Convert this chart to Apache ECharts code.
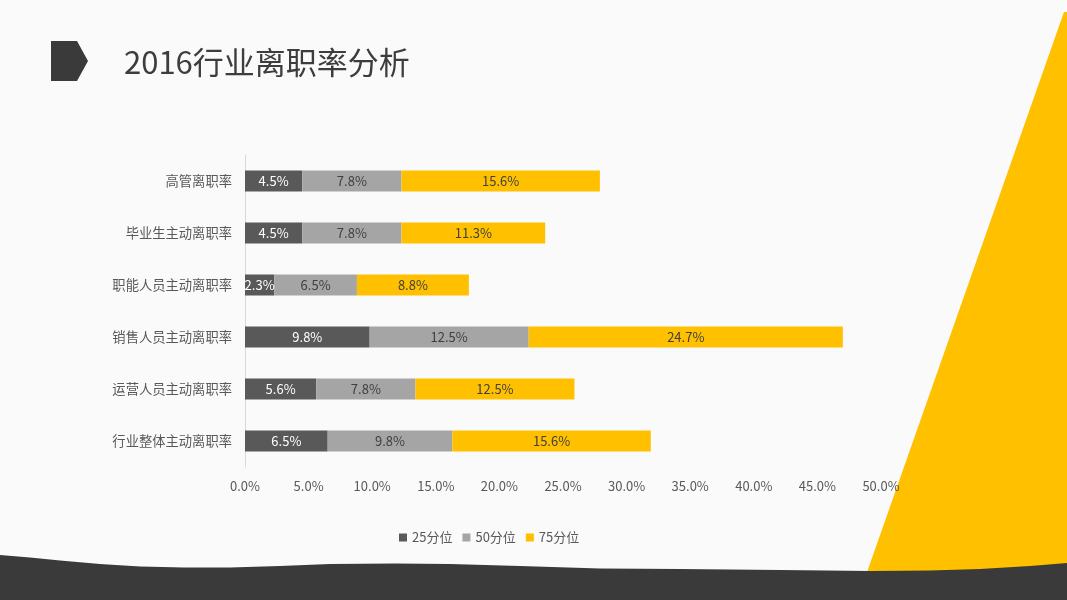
<!DOCTYPE html>
<html>
<head>
<meta charset="utf-8">
<script src="https://cdn.jsdelivr.net/npm/echarts@6/dist/echarts.min.js"></script>
<style>
html,body{margin:0;padding:0;background:#fafafa;}
#c{width:1067px;height:600px;}
</style>
</head>
<body>
<div id="c"></div>
<script>
var categories = ['高管离职率','毕业生主动离职率','职能人员主动离职率','销售人员主动离职率','运营人员主动离职率','行业整体主动离职率'];
var seriesNames = ['25分位','50分位','75分位'];
var p25 = [4.5, 4.5, 2.3, 9.8, 5.6, 6.5];
var p50 = [7.8, 7.8, 6.5, 12.5, 7.8, 9.8];
var p75 = [15.6, 11.3, 8.8, 24.7, 12.5, 15.6];
var axisMin = 0, axisMax = 50, axisStep = 5;

var font = '"Noto Sans CJK SC","Noto Sans",sans-serif';
var chart = echarts.init(document.getElementById('c'));
function mk(name, data, color, labelColor) {
  return {
    name: name, type: 'bar', stack: 'total', data: data, barWidth: 21,
    itemStyle: { color: color },
    label: { show: true, position: 'inside', color: labelColor, fontSize: 13, fontFamily: font,
      formatter: function (p) { return p.value.toFixed(1) + '%'; } },
    emphasis: { disabled: true }
  };
}
var wave = [[0,555],[30,557.5],[60,560.5],[100,564],[140,566.5],[184,567.5],[230,567.5],[280,566],[330,564],[395,563.5],[450,564],[520,566],[600,568.5],[680,569],[780,570],[871,571],[930,570.5],[980,569],[1030,566],[1067,563],[1067,600],[0,600]];
chart.setOption({
  backgroundColor: '#fafafa',
  animation: false,
  textStyle: { fontFamily: font },
  title: {
    text: '2016行业离职率分析', left: 119, top: 42,
    textStyle: { fontSize: 31, fontWeight: 'normal', color: '#3d3d3d', fontFamily: font }
  },
  graphic: [
    { type: 'polygon', z: -10, shape: { points: [[51,41],[77,41],[88,61],[77,81],[51,81]] }, style: { fill: '#3a3a3a' } },
    { type: 'polygon', z: -10, shape: { points: [[1064,12],[1067,12],[1067,575],[866,575]] }, style: { fill: '#ffc000' } },
    { type: 'polygon', z: -9, shape: { points: wave }, style: { fill: '#3a3a3a' } }
  ],
  legend: {
    data: seriesNames, left: 394, top: 526, itemWidth: 8, itemHeight: 8, itemGap: 10,
    icon: 'rect', textStyle: { fontSize: 13, color: '#595959', fontFamily: font }
  },
  grid: { left: 245, right: 186, top: 155, height: 312, containLabel: false },
  xAxis: {
    type: 'value', min: axisMin, max: axisMax, interval: axisStep,
    axisLine: { show: false }, axisTick: { show: false }, splitLine: { show: false },
    axisLabel: { color: '#595959', fontSize: 13, margin: 13, formatter: function (v) { return v.toFixed(1) + '%'; } }
  },
  yAxis: {
    type: 'category', data: categories, inverse: true,
    axisLine: { show: true, lineStyle: { color: '#d9d9d9', width: 1 } },
    axisTick: { show: false },
    axisLabel: { color: '#595959', fontSize: 13.3, margin: 13 }
  },
  series: [
    mk(seriesNames[0], p25, '#595959', '#ffffff'),
    mk(seriesNames[1], p50, '#a5a5a5', '#404040'),
    mk(seriesNames[2], p75, '#ffc000', '#404040')
  ]
});
</script>
</body>
</html>
